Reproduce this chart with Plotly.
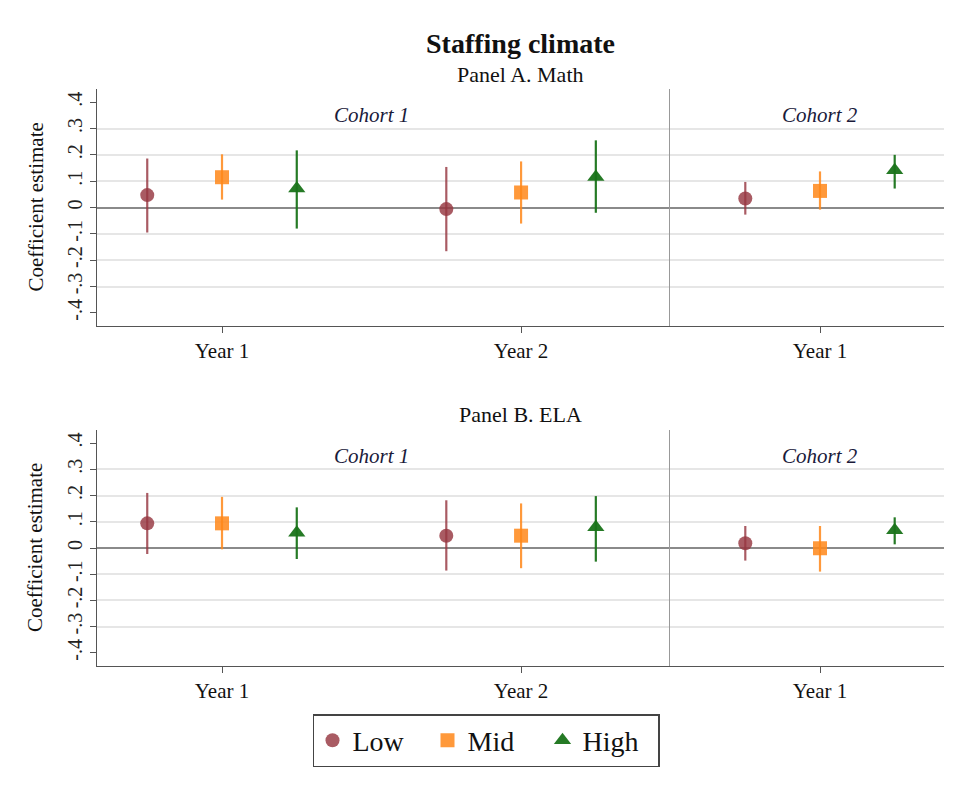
import plotly.graph_objects as go

# ---------------- data ----------------
groups = ["Low", "Mid", "High"]
years_c1 = ["Year 1", "Year 2"]
years_c2 = ["Year 1"]
y_ticks = [-0.4, -0.3, -0.2, -0.1, 0.0, 0.1, 0.2, 0.3, 0.4]
y_tick_labels = ["-.4", "-.3", "-.2", "-.1", "0", ".1", ".2", ".3", ".4"]

# Panel A. Math  (estimate, ci low, ci high) per group, per year
math_c1_est = {"Low": [0.047, -0.006], "Mid": [0.115, 0.057], "High": [0.072, 0.116]}
math_c1_lo = {"Low": [-0.095, -0.166], "Mid": [0.030, -0.061], "High": [-0.080, -0.020]}
math_c1_hi = {"Low": [0.186, 0.154], "Mid": [0.202, 0.175], "High": [0.217, 0.255]}
math_c2_est = {"Low": [0.034], "Mid": [0.063], "High": [0.141]}
math_c2_lo = {"Low": [-0.027], "Mid": [-0.008], "High": [0.072]}
math_c2_hi = {"Low": [0.097], "Mid": [0.137], "High": [0.200]}

# Panel B. ELA
ela_c1_est = {"Low": [0.094, 0.047], "Mid": [0.094, 0.047], "High": [0.058, 0.079]}
ela_c1_lo = {"Low": [-0.023, -0.086], "Mid": [-0.005, -0.077], "High": [-0.042, -0.052]}
ela_c1_hi = {"Low": [0.210, 0.182], "Mid": [0.195, 0.170], "High": [0.155, 0.198]}
ela_c2_est = {"Low": [0.018], "Mid": [-0.001], "High": [0.068]}
ela_c2_lo = {"Low": [-0.048], "Mid": [-0.090], "High": [0.014]}
ela_c2_hi = {"Low": [0.084], "Mid": [0.084], "High": [0.117]}

# ---------------- style ----------------
FONT = "Liberation Serif"
offsets = {"Low": -0.25, "Mid": 0.0, "High": 0.25}
colors = {"Low": "rgba(150,55,65,0.82)", "Mid": "rgba(255,135,25,0.85)", "High": "rgba(25,115,25,0.95)"}
symbols = {"Low": "circle", "Mid": "square", "High": "triangle-up"}
msize = {"Low": 14, "Mid": 14, "High": 15}

fig = go.Figure()


def add_panel(est, lo, hi, years, xa, ya, show_legend):
    for g in groups:
        xs = [i + 1 + offsets[g] for i in range(len(years))]
        e = est[g]
        fig.add_trace(go.Scatter(
            x=xs, y=e, mode="markers", name=g,
            legendgroup=g, showlegend=show_legend,
            marker=dict(symbol=symbols[g], size=msize[g], color=colors[g],
                        line=dict(width=0)),
            error_y=dict(type="data", symmetric=False,
                         array=[h - v for h, v in zip(hi[g], e)],
                         arrayminus=[v - l for v, l in zip(e, lo[g])],
                         width=0, thickness=2.2, color=colors[g]),
            xaxis=xa, yaxis=ya, hoverinfo="skip"))


add_panel(math_c1_est, math_c1_lo, math_c1_hi, years_c1, "x", "y", True)
add_panel(math_c2_est, math_c2_lo, math_c2_hi, years_c2, "x2", "y2", False)
add_panel(ela_c1_est, ela_c1_lo, ela_c1_hi, years_c1, "x3", "y3", False)
add_panel(ela_c2_est, ela_c2_lo, ela_c2_hi, years_c2, "x4", "y4", False)

# page has an 8px body margin; work in window pixels and shift
OFF = 8
W, H = 954 - OFF, 787 - OFF
px = lambda v: (v - OFF) / W
py = lambda v: 1 - (v - OFF) / H

xl, xd, xr = px(97), px(670), px(944)
top_dom = [py(326), py(89)]
bot_dom = [py(666), py(430)]

grid_vals = [v for v in y_ticks if v != 0 and abs(v) < 0.35]

def yax(domain, anchor, labels, linecolor):
    return dict(domain=domain, anchor=anchor, range=[-0.45, 0.45],
                tickmode="array", tickvals=y_ticks,
                ticktext=y_tick_labels if labels else [""] * len(y_ticks),
                ticks="outside" if labels else "", ticklen=6, tickcolor="#555",
                tickangle=-90, showgrid=False,
                zeroline=True, zerolinecolor="#8a8a8a", zerolinewidth=1.6,
                showline=True, linecolor=linecolor, linewidth=1.3,
                minor=dict(tickmode="array", tickvals=grid_vals, showgrid=True,
                           gridcolor="#e6e6e6", gridwidth=1.6, ticks=""),
                tickfont=dict(family=FONT, size=20, color="#222"),
                fixedrange=True)

def xax(domain, anchor, years, rng):
    return dict(domain=domain, anchor=anchor, range=rng,
                tickmode="array", tickvals=[i + 1 for i in range(len(years))],
                ticktext=years, ticks="outside", ticklen=6, tickcolor="#555",
                showgrid=False, zeroline=False,
                showline=True, linecolor="#555", linewidth=1.3,
                tickfont=dict(family=FONT, size=21, color="#111"),
                fixedrange=True)

rng1 = [0.582, 2.498]
rng2 = [0.498, 1.415]

fig.update_layout(
    width=W, height=H,
    margin=dict(l=0, r=0, t=0, b=0),
    paper_bgcolor="white", plot_bgcolor="white",
    font=dict(family=FONT, color="#111"),
    xaxis=xax([xl, xd], "y", years_c1, rng1),
    xaxis2=xax([xd, xr], "y2", years_c2, rng2),
    xaxis3=xax([xl, xd], "y3", years_c1, rng1),
    xaxis4=xax([xd, xr], "y4", years_c2, rng2),
    yaxis=yax(top_dom, "x", True, "#555"),
    yaxis2=yax(top_dom, "x2", False, "#999"),
    yaxis3=yax(bot_dom, "x3", True, "#555"),
    yaxis4=yax(bot_dom, "x4", False, "#999"),
    legend=dict(orientation="h", x=px(486), xanchor="center",
                y=py(714), yanchor="top",
                bordercolor="#444", borderwidth=1.5,
                font=dict(family=FONT, size=28, color="#111"),
                entrywidth=70, entrywidthmode="pixels",
                itemwidth=30, tracegroupgap=0),
    showlegend=True,
)

pc = px((97 + 944) / 2)
ann = [
    dict(text="<b>Staffing climate</b>", x=pc, y=py(43), font=dict(size=28)),
    dict(text="Panel A. Math", x=pc, y=py(75), font=dict(size=22)),
    dict(text="Panel B. ELA", x=pc, y=py(415), font=dict(size=22)),
    dict(text="Coefficient estimate", x=px(35), y=py(207.5), textangle=-90, font=dict(size=21)),
    dict(text="Coefficient estimate", x=px(35), y=py(548), textangle=-90, font=dict(size=21)),
]
for a in ann:
    a.update(xref="paper", yref="paper", showarrow=False, xanchor="center", yanchor="middle")
    a["font"].update(family=FONT, color="#111")
    fig.add_annotation(**a)

for xa, ya, xv in [("x", "y", 1.5), ("x2", "y2", 1), ("x3", "y3", 1.5), ("x4", "y4", 1)]:
    label = "Cohort 1" if xa in ("x", "x3") else "Cohort 2"
    fig.add_annotation(text="<i>" + label + "</i>", x=xv, y=0.35, xref=xa, yref=ya,
                       showarrow=False, xanchor="center", yanchor="middle",
                       font=dict(family=FONT, size=21, color="#1a1a3a"))

fig.write_html("out.html")
